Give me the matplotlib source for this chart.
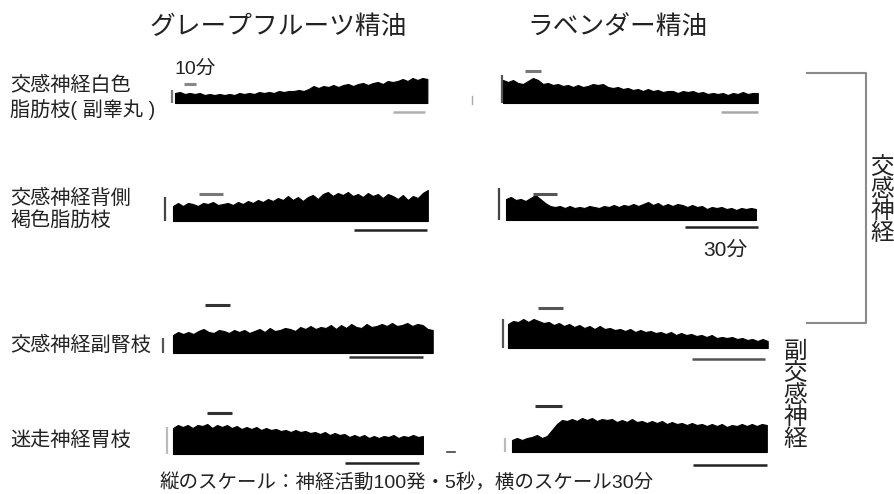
import matplotlib.pyplot as plt
import numpy as np

plt.rcParams["font.family"] = ["Liberation Sans", "Noto Sans CJK JP", "DejaVu Sans"]

W, H = 894, 494
PX_PER_MIN = 2.45  # horizontal scale: 30 min bar = ~73 px

# - Data: upper envelope of integrated nerve activity (same units as the scale bar height)

gf_wat = [10, 11, 9, 10, 9, 10, 8, 9, 8, 9, 8, 9, 8, 10, 9, 10, 9, 11, 10, 11, 10, 12, 11, 12, 12, 13,
          12, 14, 17, 15, 17, 16, 18, 16, 18, 19, 17, 19, 20, 18, 20, 21, 19, 22, 21, 22, 24, 22, 25, 23, 25, 24]
lav_wat = [23, 21, 23, 20, 19, 22, 25, 23, 19, 20, 18, 19, 17, 18, 16, 18, 16, 17, 19, 18, 19, 16, 15, 16, 14, 15,
           13, 14, 12, 14, 12, 13, 11, 12, 12, 10, 12, 11, 12, 10, 11, 9, 10, 9, 10, 8, 10, 9, 11, 9, 10, 10]
gf_bat = [15, 18, 15, 18, 17, 15, 18, 17, 19, 16, 17, 18, 16, 19, 17, 20, 18, 21, 19, 22, 20, 23, 21, 25, 21, 24,
          20, 24, 26, 22, 27, 29, 25, 28, 26, 29, 25, 27, 24, 28, 25, 27, 23, 27, 25, 22, 26, 21, 25, 23, 28, 31]
lav_bat = [21, 23, 20, 21, 19, 22, 25, 21, 17, 14, 13, 14, 12, 14, 12, 13, 12, 14, 13, 12, 14, 13, 15, 13, 15, 14,
           16, 14, 16, 18, 15, 17, 14, 16, 14, 16, 15, 13, 15, 13, 14, 11, 13, 12, 13, 11, 12, 10, 12, 11, 12, 11]
gf_adr = [18, 21, 19, 21, 19, 22, 24, 21, 20, 23, 22, 20, 23, 21, 23, 20, 22, 24, 21, 25, 22, 23, 25, 24, 22, 26,
          24, 27, 24, 26, 25, 28, 24, 28, 25, 29, 26, 25, 29, 26, 27, 29, 27, 30, 27, 28, 30, 27, 29, 28, 24, 23]
lav_adr = [24, 27, 26, 29, 26, 29, 27, 25, 26, 23, 25, 22, 24, 21, 23, 20, 22, 19, 22, 19, 20, 18, 19, 17, 19, 16,
           18, 16, 17, 15, 16, 14, 16, 13, 15, 13, 14, 12, 13, 11, 13, 10, 11, 10, 11, 9, 10, 8, 9, 7, 9, 7]
gf_gas = [26, 29, 27, 29, 26, 29, 28, 30, 26, 29, 27, 29, 26, 28, 25, 27, 25, 27, 24, 26, 24, 25, 23, 24, 22, 24,
          22, 23, 21, 22, 20, 22, 19, 21, 19, 20, 17, 19, 17, 19, 16, 18, 16, 18, 17, 19, 16, 18, 17, 19, 17, 18]
lav_gas = [12, 14, 12, 14, 15, 17, 14, 16, 22, 28, 32, 31, 33, 31, 34, 32, 34, 31, 33, 32, 33, 30, 32, 30, 33, 30,
           31, 29, 31, 29, 31, 28, 30, 28, 29, 27, 29, 27, 28, 26, 28, 26, 28, 25, 27, 26, 28, 26, 28, 26, 28, 27]

traces = [gf_wat, lav_wat, gf_bat, lav_bat, gf_adr, lav_adr, gf_gas, lav_gas]
duration_min = [103, 104, 104, 102, 106, 106, 102, 104]
stim_on = [3.5, 9.0, 10.6, 11.0, 13.0, 12.2, 13.9, 9.4]     # oil exposure, 10 min
stim_off = [8.5, 15.5, 20.4, 21.0, 23.3, 22.4, 24.1, 20.4]
bar_end_min = [102, 104, 103.7, 102.9, 102, 105, 100.4, 104]
bar_len_min = [13, 15, 30, 30, 30, 30, 30, 30]
scale_100 = [13, 28, 24, 32, 15, 29, 27, 14]   # height of "100 spikes / 5 s"

row_labels = ["交感神経白色\n脂肪枝( 副睾丸 )", "交感神経背側\n褐色脂肪枝", "交感神経副腎枝", "迷走神経胃枝"]
col_titles = ["グレープフルーツ精油", "ラベンダー精油"]

# - Layout (pixels): trace origin, stimulus bar height, scale bar offsets

origin = [(175, 103), (503, 103), (173, 221), (506, 220), (173, 353), (508, 348), (173, 454), (512, 452)]
stim_y = [19, 32, 27, 26, 48, 40, 41, 46]
bar_y = [-9, -9, -9, -7, -4, -11, -9, -13]
vbar_dx = [-3, -1, -8, -7, -10, -5, -6, -7]
bar_color = ["#b0b0b0", "#a8a8a8", "#222222", "#222222", "#333333", "#555555", "#222222", "#222222"]
stim_color = ["#888888", "#777777", "#777777", "#555555", "#333333", "#555555", "#333333", "#333333"]
vbar_color = ["#777777", "#555555", "#444444", "#444444", "#555555", "#555555", "#bbbbbb", "#bbbbbb"]

fig = plt.figure(figsize=(W / 100, H / 100), dpi=100)
bg = fig.add_axes([0, 0, 1, 1])
bg.set_xlim(0, W)
bg.set_ylim(H, 0)
bg.axis("off")

# - Traces

for i, env in enumerate(traces):
    x0, y0 = origin[i]
    left, right, top, bottom = x0 - 25, x0 + 275, y0 - 60, y0 + 20
    ax = fig.add_axes([left / W, 1 - bottom / H, (right - left) / W, (bottom - top) / H])
    ax.set_xlim(-25 / PX_PER_MIN, 275 / PX_PER_MIN)
    ax.set_ylim(-20, 60)
    ax.axis("off")
    ax.patch.set_alpha(0)

    t = np.linspace(0, duration_min[i], len(env))
    ax.fill_between(t, 0, env, color="black", lw=0.8, ec="black")
    ax.plot([stim_on[i], stim_off[i]], [stim_y[i]] * 2, color=stim_color[i], lw=2.2, solid_capstyle="butt")
    ax.plot([bar_end_min[i] - bar_len_min[i], bar_end_min[i]], [bar_y[i]] * 2,
            color=bar_color[i], lw=1.8, solid_capstyle="butt")
    vx = vbar_dx[i] / PX_PER_MIN
    ax.plot([vx, vx], [0, scale_100[i]], color=vbar_color[i], lw=1.6, solid_capstyle="butt")

# - Stray marks from the original figure

bg.plot([472, 472], [96, 104], color="#aaaaaa", lw=1)
bg.plot([447, 455], [452, 452], color="#444444", lw=1.2)

# - Texts

txt = dict(color="#222222")
bg.text(278, 27, col_titles[0], fontsize=18.5, ha="center", va="center", **txt)
bg.text(618, 27, col_titles[1], fontsize=18.5, ha="center", va="center", **txt)
for label, y in zip(row_labels, [98, 209, 345, 440]):
    bg.text(10, y, label, fontsize=14.5, ha="left", va="center", linespacing=1.2, **txt)
bg.text(175, 69, "10分", fontsize=14, ha="left", va="center", **txt)
bg.text(703, 250, "30分", fontsize=15, ha="left", va="center", **txt)
bg.text(882, 201, "\n".join("交感神経"), fontsize=17, ha="center", va="center", linespacing=1.0, **txt)
bg.text(795, 396, "\n".join("副交感神経"), fontsize=17, ha="center", va="center", linespacing=1.0, **txt)
bg.text(407, 482, "縦のスケール：神経活動100発・5秒，横のスケール30分", fontsize=14, ha="center", va="center", **txt)

# - Bracket for sympathetic nerves

bg.plot([807, 866, 866, 807], [73, 73, 323, 323], color="#8a8a8a", lw=1.5)

plt.savefig("out.png", dpi=100)
